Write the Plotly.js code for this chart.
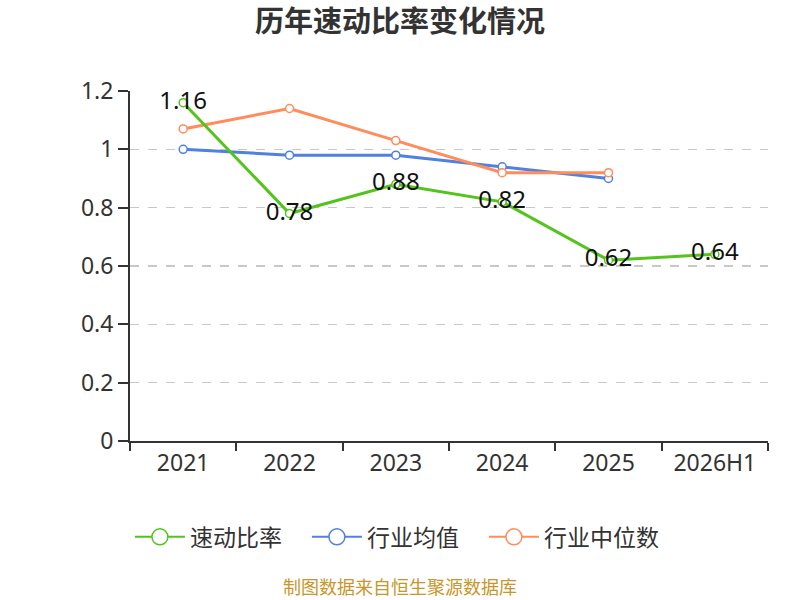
<!DOCTYPE html>
<html><head><meta charset="utf-8">
<script src="https://cdn.plot.ly/plotly-3.0.1.min.js"></script>
<style>body{margin:0}#c{width:800px;height:600px}</style>
</head><body><div id="c"></div>
<script>
var categories = ["2021","2022","2023","2024","2025","2026H1"];
var quickRatio = [1.16,0.78,0.88,0.82,0.62,0.64];
var industryAvg = [1.00,0.98,0.98,0.94,0.90];
var industryMedian = [1.07,1.14,1.03,0.92,0.92];
var yTicks = [0,0.2,0.4,0.6,0.8,1,1.2];
var yTickText = ["0","0.2","0.4","0.6","0.8","1","1.2"];
var seriesNames = ["速动比率","行业均值","行业中位数"];
var seriesColors = ["#52c41a","#4f81e0","#ff8c5a"];

var font = "'Noto Sans', 'Noto Sans CJK SC', sans-serif";
function tr(name, y, color, withText){
  var t = {
    type:'scatter', mode: withText ? 'lines+markers+text' : 'lines+markers',
    name:name, x:categories.slice(0,y.length), y:y, showlegend:false,
    line:{color:color,width:3},
    marker:{symbol:'circle',size:8,color:'#ffffff',line:{color:color,width:1.5}},
    cliponaxis:false
  };
  if(withText){
    t.text = y.map(function(v){return v.toFixed(2);});
    t.textposition = 'middle center';
    t.textfont = {size:24,color:'#111111',family:font};
  }
  return t;
}
var data = [
  tr(seriesNames[1], industryAvg, seriesColors[1], false),
  tr(seriesNames[2], industryMedian, seriesColors[2], false),
  tr(seriesNames[0], quickRatio, seriesColors[0], true)
];
// legend entries (no drawn marks)
seriesNames.forEach(function(n,i){
  data.push({type:'scatter',mode:'lines+markers',name:n,x:[null],y:[null],showlegend:true,
    line:{color:seriesColors[i],width:2},
    marker:{symbol:'circle',size:16,color:'#ffffff',line:{color:seriesColors[i],width:1.5}}});
});
var layout = {
  width:800,height:600,
  margin:{l:130,r:32,t:91,b:159,autoexpand:false},
  paper_bgcolor:'#ffffff',plot_bgcolor:'#ffffff',
  font:{family:font,color:'#333333'},
  title:{text:'<b>历年速动比率变化情况</b>',x:0.5,xanchor:'center',y:0.963,yanchor:'middle',font:{size:29,color:'#333333',family:font}},
  xaxis:{type:'category',categoryorder:'array',categoryarray:categories,range:[-0.5,5.5],
    showline:true,linecolor:'#333333',linewidth:2,ticks:'outside',tickson:'boundaries',ticklen:8,tickwidth:2,tickcolor:'#333333',
    showgrid:false,tickfont:{size:23,color:'#333333'},tickangle:0,zeroline:false,fixedrange:true,automargin:false},
  yaxis:{range:[0,1.2],tickvals:yTicks,ticktext:yTickText,showline:true,linecolor:'#333333',linewidth:2,
    ticks:'outside',ticklen:10,tickwidth:2,tickcolor:'#333333',ticklabelstandoff:0,showgrid:true,gridcolor:'#c8c8c8',griddash:'dash',gridwidth:1.5,
    zeroline:false,tickfont:{size:23,color:'#333333'},fixedrange:true,automargin:false},
  legend:{orientation:'h',x:0.416,xanchor:'center',y:-0.274,yanchor:'middle',font:{size:23,color:'#333333'},
    traceorder:'normal',itemwidth:50,entrywidth:112,entrywidthmode:'pixels'},
  showlegend:true,
  annotations:[{text:'制图数据来自恒生聚源数据库',xref:'paper',yref:'paper',x:0.423,xanchor:'center',y:-0.418,yanchor:'middle',showarrow:false,font:{size:18,color:'#c8962a',family:font}}]
};
Plotly.newPlot('c',data,layout,{displayModeBar:false,staticPlot:true});
</script></body></html>
